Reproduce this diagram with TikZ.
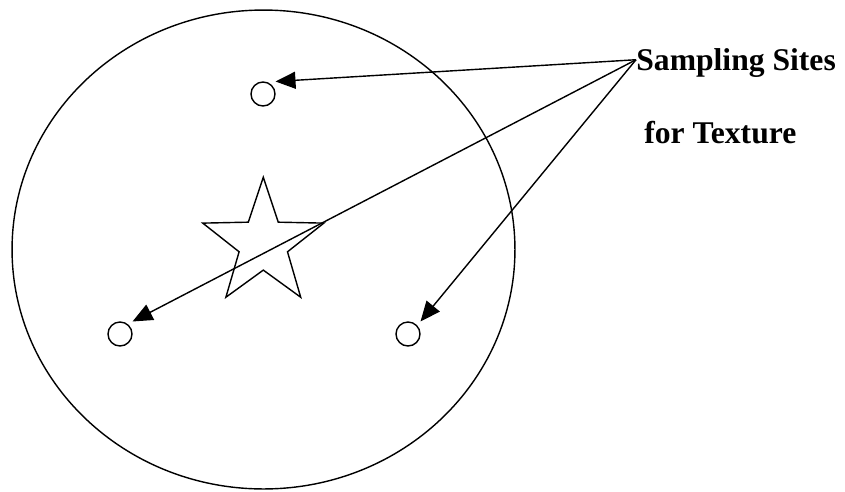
\documentclass[tikz,border=0pt]{standalone}
\usepackage{fontspec}
\setmainfont{Liberation Serif}
\usetikzlibrary{arrows.meta,calc,shapes.geometric}

\begin{document}
\begin{tikzpicture}[
  x=0.02cm, y=-0.02cm,
  >={Triangle[length=0.4cm,width=0.34cm]},
  site/.style={draw,circle,minimum size=0.48cm,inner sep=0pt,
               outer sep=0.114cm,line width=0.8pt},
  ptr/.style={draw,->,line width=0.8pt},
  lbl/.style={font=\fontsize{18}{20}\selectfont\bfseries,inner sep=0pt,
              text depth=0pt,anchor=base west},
]
\useasboundingbox (0,0) rectangle (845,491);

% --- outer field ---
\node[draw,ellipse,minimum width=10.06cm,minimum height=9.58cm,
      inner sep=0pt,line width=0.8pt] (field) at (263.5,249.5) {};

% --- centre marker (five-point star) ---
\coordinate (centre) at (263.3,243.6);
\draw[line width=0.8pt] ($(centre)+(-90:66.3)$)
  \foreach \a/\r in {-54/26.5,-18/66.3,18/26.5,54/66.3,90/26.5,
                     126/66.3,162/26.5,198/66.3,234/26.5}
  { -- ($(centre)+({0.96*\r*cos(\a)},{\r*sin(\a)})$) } -- cycle;

% --- sampling sites ---
\node[site] (sitetop)   at (263,94)  {};
\node[site] (siteleft)  at (120,334) {};
\node[site] (siteright) at (408,334) {};

% --- caption ---
\node[lbl] (sites)   at (636,70.7) {Sampling Sites};
\node[lbl] (texture) at (644,143)  {for Texture};

% pointers from caption to each site
\draw[ptr] (sites.west) -- (sitetop.north east);
\draw[ptr] (sites.west) -- (siteleft.north east);
\draw[ptr] (sites.west) -- (siteright.north east);

\end{tikzpicture}
\end{document}
